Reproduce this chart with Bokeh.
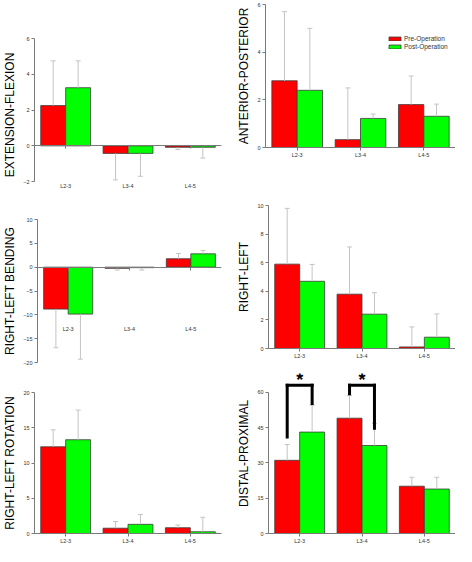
from bokeh.plotting import figure
from bokeh.models import FactorRange, Range1d, FixedTicker, ColumnDataSource
from bokeh.transform import dodge
from bokeh.layouts import column, row
from bokeh.embed import file_html
from bokeh.resources import INLINE
from bokeh.core.properties import value

# ---------------- data ----------------
levels = ["L2-3", "L3-4", "L4-5"]
series_names = ["Pre-Operation", "Post-Operation"]

# EXTENSION-FLEXION
ef_pre = [2.25, -0.42, -0.08]
ef_post = [3.25, -0.42, -0.08]
ef_pre_sd = [2.5, 1.48, 0.12]
ef_post_sd = [1.5, 1.28, 0.6]
ef_ticks = [-2, 0, 2, 4, 6]

# ANTERIOR-POSTERIOR
ap_pre = [2.8, 0.33, 1.8]
ap_post = [2.4, 1.22, 1.31]
ap_pre_sd = [2.9, 2.17, 1.2]
ap_post_sd = [2.6, 0.18, 0.51]
ap_ticks = [0, 2, 4, 6]

# RIGHT-LEFT BENDING
rlb_pre = [-8.8, -0.25, 1.77]
rlb_post = [-9.85, -0.1, 2.8]
rlb_pre_sd = [8.1, 0.35, 1.1]
rlb_post_sd = [9.45, 0.5, 0.7]
rlb_ticks = [-20, -15, -10, -5, 0, 5, 10]

# RIGHT-LEFT
rl_pre = [5.9, 3.8, 0.11]
rl_post = [4.7, 2.4, 0.79]
rl_pre_sd = [3.9, 3.3, 1.4]
rl_post_sd = [1.18, 1.5, 1.63]
rl_ticks = [0, 2, 4, 6, 8, 10]

# RIGHT-LEFT ROTATION
rlr_pre = [12.3, 0.75, 0.82]
rlr_post = [13.3, 1.3, 0.25]
rlr_pre_sd = [2.4, 0.95, 0.38]
rlr_post_sd = [4.2, 1.4, 2.05]
rlr_ticks = [0, 5, 10, 15, 20]

# DISTAL-PROXIMAL
dp_pre = [31.1, 49.0, 20.1]
dp_post = [43.1, 37.4, 18.9]
dp_pre_sd = [6.7, 9.6, 3.8]
dp_post_sd = [11.4, 9.4, 5.0]
dp_ticks = [0, 15, 30, 45, 60]

# significance brackets (DISTAL-PROXIMAL)
sig_levels = ["L2-3", "L3-4"]
sig_top = [63.0, 63.0]
sig_pre_end = [41.0, 59.4]
sig_post_end = [55.2, 44.7]
sig_text = ["*", "*"]

# ---------------- style ----------------
FONT = "Liberation Sans"
RED, GREEN = "#ff0000", "#00ff00"
EDGE = "#3c3c3c"
ERR = "#c4c4c4"
AXIS = "#7a7a7a"
TICKTXT = "#333333"


def ends(vals, sds):
    return [v + s if v >= 0 else v - s for v, s in zip(vals, sds)]


def make_panel(name, pre, post, pre_sd, post_sd, ticks, width, height,
               btop, bbottom, bleft, bright, cat_standoff,
               y_start=None, y_end=None, fixed=False, legend=False):
    ys = ticks[0] if y_start is None else y_start
    ye = ticks[-1] if y_end is None else y_end
    p = figure(x_range=FactorRange(factors=levels, range_padding=0),
               y_range=Range1d(ys, ye),
               width=width, height=height, output_backend="svg",
               toolbar_location=None,
               min_border_left=bleft, min_border_right=bright,
               min_border_top=btop, min_border_bottom=bbottom)
    p.frame_align = False
    p.outline_line_color = None
    p.xgrid.visible = False
    p.ygrid.visible = False

    src = ColumnDataSource(dict(level=levels, pre=pre, post=post,
                                pre_end=ends(pre, pre_sd),
                                post_end=ends(post, post_sd)))
    xpre = dodge("level", -0.2, range=p.x_range)
    xpost = dodge("level", 0.2, range=p.x_range)
    kw_pre = dict(legend_label=series_names[0]) if legend else {}
    kw_post = dict(legend_label=series_names[1]) if legend else {}
    p.vbar(x=xpre, top="pre", bottom=0, width=0.4, source=src,
           fill_color=RED, line_color=EDGE, line_width=0.8, **kw_pre)
    p.vbar(x=xpost, top="post", bottom=0, width=0.4, source=src,
           fill_color=GREEN, line_color=EDGE, line_width=0.8, **kw_post)
    for xx, a, b in ((xpre, "pre", "pre_end"), (xpost, "post", "post_end")):
        p.segment(x0=xx, y0=a, x1=xx, y1=b, source=src,
                  line_color=ERR, line_width=1)
        p.scatter(x=xx, y=b, source=src, marker="dash", size=5,
                  line_color=ERR, line_width=1)

    ya = p.yaxis[0]
    ya.ticker = FixedTicker(ticks=ticks)
    ya.bounds = (ticks[0], ticks[-1])
    ya.axis_label = name
    ya.axis_label_text_font = FONT
    ya.axis_label_text_font_size = "12px"
    ya.axis_label_text_font_style = "normal"
    ya.axis_label_text_color = "black"
    ya.axis_label_standoff = 3
    ya.major_label_text_font = FONT
    ya.major_label_text_font_size = "5.5px"
    ya.major_label_text_color = TICKTXT
    ya.major_label_standoff = 2
    ya.major_tick_out = 3
    ya.major_tick_in = 0
    ya.minor_tick_out = 0
    ya.minor_tick_in = 0
    ya.axis_line_color = AXIS
    ya.major_tick_line_color = AXIS

    xa = p.xaxis[0]
    if fixed:
        xa.fixed_location = 0
    xa.major_label_standoff = cat_standoff
    xa.major_label_text_font = FONT
    xa.major_label_text_font_size = "5.5px"
    xa.major_label_text_color = TICKTXT
    xa.major_tick_out = 3
    xa.major_tick_in = 0
    xa.axis_line_color = AXIS
    xa.major_tick_line_color = AXIS

    if legend:
        lg = p.legend[0]
        lg.location = (121, 96)
        lg.glyph_width = 15
        lg.glyph_height = 5
        lg.label_text_font = FONT
        lg.label_text_font_size = "6.5px"
        lg.label_text_color = TICKTXT
        lg.label_height = 8
        lg.label_standoff = 2
        lg.spacing = 0
        lg.padding = 1
        lg.margin = 0
        lg.border_line_alpha = 0
        lg.background_fill_alpha = 0
    return p


W1, W2 = 234, 221
BL = 31
H1, H2, H3 = 192, 178, 176

p1 = make_panel("EXTENSION-FLEXION", ef_pre, ef_post, ef_pre_sd, ef_post_sd,
                ef_ticks, W1, H1, 38, 1, BL, 13, 34, y_start=-2.55, fixed=True)
p2 = make_panel("ANTERIOR-POSTERIOR", ap_pre, ap_post, ap_pre_sd, ap_post_sd,
                ap_ticks, W2, H1, 4, 45, BL, 0, 1, legend=True)
p3 = make_panel("RIGHT-LEFT BENDING", rlb_pre, rlb_post, rlb_pre_sd, rlb_post_sd,
                rlb_ticks, W1, H2, 27, 8, BL, 13, 56, fixed=True)
p4 = make_panel("RIGHT-LEFT", rl_pre, rl_post, rl_pre_sd, rl_post_sd,
                rl_ticks, W2, H2, 13, 22, BL, 0, 1)
p5 = make_panel("RIGHT-LEFT ROTATION", rlr_pre, rlr_post, rlr_pre_sd, rlr_post_sd,
                rlr_ticks, W1, H3, 22, 11, BL, 13, 1)
p6 = make_panel("DISTAL-PROXIMAL", dp_pre, dp_post, dp_pre_sd, dp_post_sd,
                dp_ticks, W2, H3, 3, 11, BL, 0, 1, y_end=68)

# significance brackets
sig = ColumnDataSource(dict(level=sig_levels, top=sig_top, pre_end=sig_pre_end,
                            post_end=sig_post_end, txt=sig_text))
sxl = dodge("level", -0.2, range=p6.x_range)
sxr = dodge("level", 0.2, range=p6.x_range)
p6.segment(x0=sxl, y0="pre_end", x1=sxl, y1="top", source=sig,
           line_color="black", line_width=3, line_cap="square")
p6.segment(x0=sxl, y0="top", x1=sxr, y1="top", source=sig,
           line_color="black", line_width=3, line_cap="square")
p6.segment(x0=sxr, y0="post_end", x1=sxr, y1="top", source=sig,
           line_color="black", line_width=3, line_cap="square")
p6.text(x="level", y="top", text="txt", source=sig, y_offset=-5,
        text_font=value(FONT), text_font_size="18px", text_font_style="bold",
        text_align="center", text_baseline="alphabetic", text_color="black")

layout = column(row(p1, p2), row(p3, p4), row(p5, p6))

open("out.html", "w").write(file_html(layout, INLINE))
